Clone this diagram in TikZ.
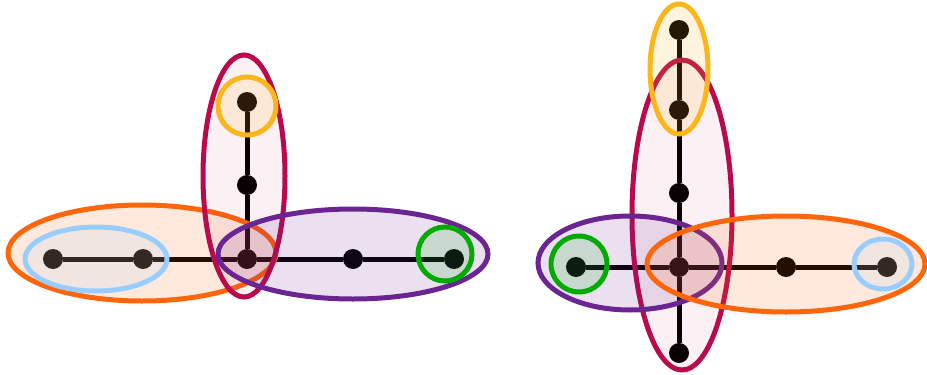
\documentclass[tikz,border=0pt]{standalone}
\definecolor{hOrange}{HTML}{FF650A}
\definecolor{hBlue}{HTML}{99CCFF}
\definecolor{hCrimson}{HTML}{BA0A4B}
\definecolor{hYellow}{HTML}{FDB51C}
\definecolor{hPurple}{HTML}{6A2593}
\definecolor{hGreen}{HTML}{00AA00}
\begin{document}
\begin{tikzpicture}[x=1pt,y=-1pt,
  vtx/.style={circle,fill=black,inner sep=0pt,minimum size=20pt},
  tedge/.style={line width=5pt},
  hedge/.style={line width=5pt,draw=#1,fill=#1,fill opacity=0.14,draw opacity=1},
  hedgefaint/.style={line width=5pt,draw=#1,fill=#1,fill opacity=0.06,draw opacity=1}]
\useasboundingbox (0,0) rectangle (927,375);
% ---- left tree ----
\node[vtx] (a1) at (53,259) {};
\node[vtx] (a2) at (143,259) {};
\node[vtx] (a3) at (247,259) {};
\node[vtx] (a4) at (353,259) {};
\node[vtx] (a5) at (454,259) {};
\node[vtx] (a6) at (247,185) {};
\node[vtx] (a7) at (247,102) {};
\draw[tedge] (a1) -- (a2) -- (a3) -- (a4) -- (a5);
\draw[tedge] (a3) -- (a6) -- (a7);
% ---- right tree ----
\node[vtx] (b1) at (679,30) {};
\node[vtx] (b2) at (679,110) {};
\node[vtx] (b3) at (679,193) {};
\node[vtx] (b4) at (679,267) {};
\node[vtx] (b5) at (679,353) {};
\node[vtx] (b6) at (576,267) {};
\node[vtx] (b7) at (786,267) {};
\node[vtx] (b8) at (887,267) {};
\draw[tedge] (b1) -- (b2) -- (b3) -- (b4) -- (b5);
\draw[tedge] (b6) -- (b4) -- (b7) -- (b8);
% ---- left hyperedges ----
\path[hedge=hOrange] (142,253) ellipse [x radius=134, y radius=48];
\path[hedge=hBlue] (96,259) ellipse [x radius=71, y radius=32];
\path[hedgefaint=hCrimson] (244,176) ellipse [x radius=41, y radius=121];
\path[hedge=hYellow] (247,106) circle [radius=29];
\path[hedge=hPurple] (353,254) ellipse [x radius=135, y radius=45];
\path[hedge=hGreen] (445,254) circle [radius=27];
% ---- right hyperedges ----
\path[hedgefaint=hCrimson] (682,215) ellipse [x radius=50, y radius=155];
\path[hedge=hYellow] (679,69) ellipse [x radius=29, y radius=65];
\path[hedge=hPurple] (630,263) ellipse [x radius=92, y radius=47];
\path[hedge=hGreen] (579,264) circle [radius=28];
\path[hedge=hOrange] (786,264) ellipse [x radius=139, y radius=48];
\path[hedge=hBlue] (883,264) ellipse [x radius=29, y radius=25];
\end{tikzpicture}
\end{document}
